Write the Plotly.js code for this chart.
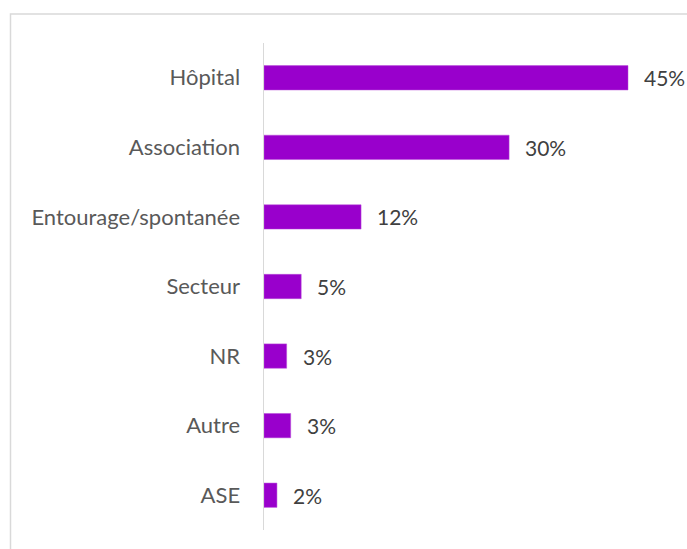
<!DOCTYPE html>
<html>
<head>
<meta charset="utf-8">
<script src="https://cdn.plot.ly/plotly-3.0.1.min.js"></script>
<style>
html,body{margin:0;padding:0;background:#fff;}
#chart{width:687px;height:549px;}
</style>
</head>
<body>
<div id="chart"></div>
<script>
// Data (top to bottom as displayed)
var categories = ["Hôpital", "Association", "Entourage/spontanée", "Secteur", "NR", "Autre", "ASE"];
var values = [45, 30.3, 12, 4.6, 2.8, 3.3, 1.6];
var valueLabels = ["45%", "30%", "12%", "5%", "3%", "3%", "2%"];

var FONT = "Lato, 'Open Sans', sans-serif";

var trace = {
  type: "bar",
  orientation: "h",
  y: categories,
  x: values,
  marker: {color: "#9900CC", line: {color: "#b84fd9", width: 0.5}},
  hoverinfo: "none"
};

var annotations = categories.map(function (c, i) {
  return {
    x: values[i], y: c, xref: "x", yref: "y",
    text: valueLabels[i], showarrow: false,
    xanchor: "left", xshift: 14,
    font: {family: FONT, size: 21, color: "#404040"}
  };
});

var layout = {
  width: 687, height: 549,
  margin: {l: 264, r: 23, t: 43, b: 19},
  paper_bgcolor: "#ffffff", plot_bgcolor: "#ffffff",
  showlegend: false,
  bargap: 0.65,
  xaxis: {range: [0, 49.45], showgrid: false, zeroline: false, showline: false, showticklabels: false, ticks: "", fixedrange: true},
  yaxis: {
    autorange: "reversed", showgrid: false, zeroline: false,
    showline: true, linecolor: "#d9d9d9", linewidth: 1.5,
    ticks: "", ticklabelstandoff: 18,
    tickfont: {family: FONT, size: 22, color: "#595959"}
  },
  annotations: annotations,
  shapes: [{
    type: "rect", xref: "paper", yref: "paper", layer: "below",
    x0: (10.5 - 264) / 400, x1: 1.2, y0: -0.2, y1: (530 - 14) / 487,
    line: {color: "#d9d9d9", width: 1.5}, fillcolor: "rgba(0,0,0,0)"
  }]
};

Plotly.newPlot("chart", [trace], layout, {displayModeBar: false, staticPlot: true});
</script>
</body>
</html>
